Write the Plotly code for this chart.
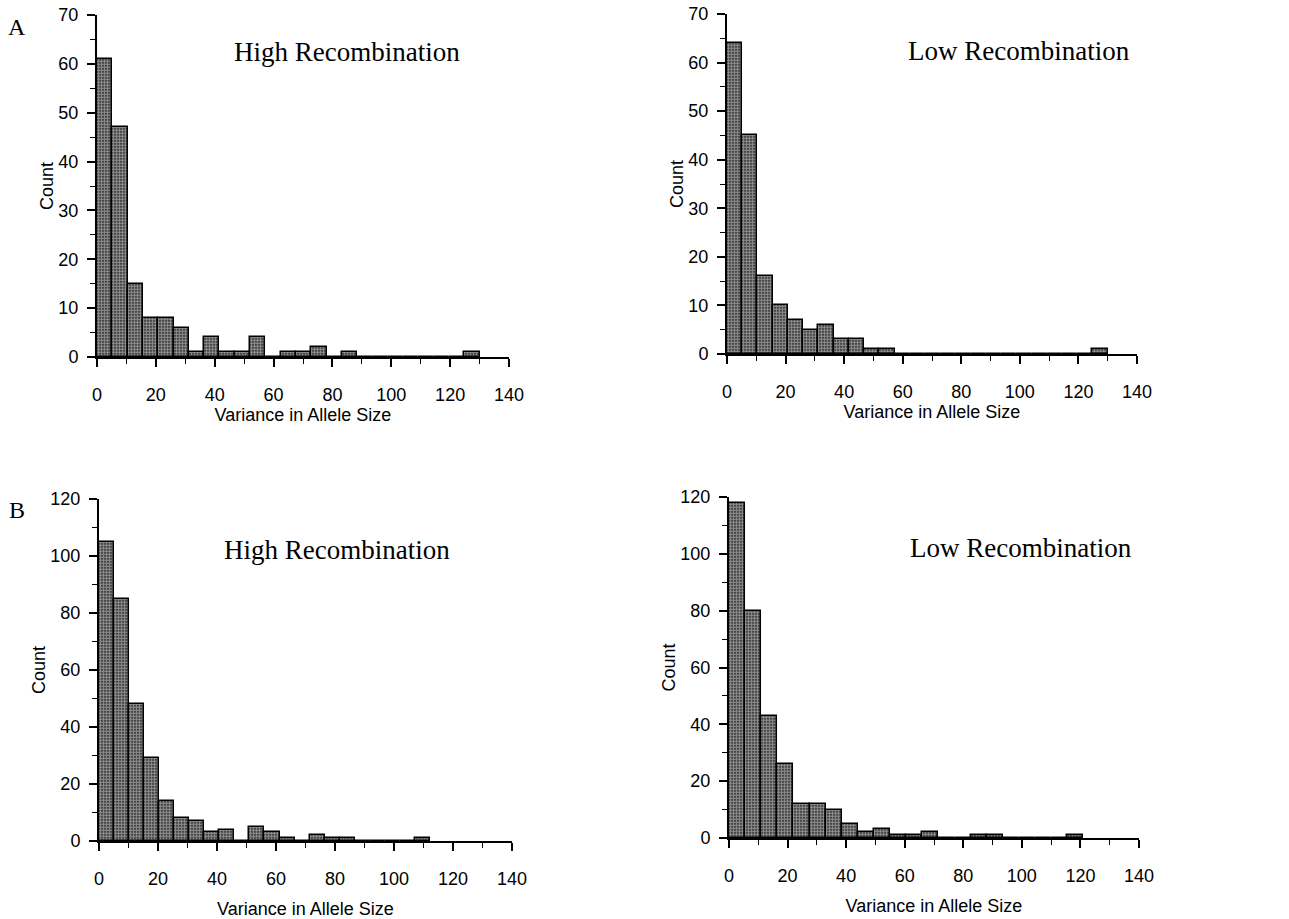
import plotly.graph_objects as go

# ---- data (histogram counts per bin, bins start at 0) ----
bin_width_a_high = 5.2
counts_a_high = [61, 47, 15, 8, 8, 6, 1, 4, 1, 1, 4, 0, 1, 1, 2, 0, 1, 0, 0, 0, 0, 0, 0, 0, 1]

bin_width_a_low = 5.2
counts_a_low = [64, 45, 16, 10, 7, 5, 6, 3, 3, 1, 1, 0, 0, 0, 0, 0, 0, 0, 0, 0, 0, 0, 0, 0, 1]

bin_width_b_high = 5.1
counts_b_high = [105, 85, 48, 29, 14, 8, 7, 3, 4, 0, 5, 3, 1, 0, 2, 1, 1, 0, 0, 0, 0, 1]

bin_width_b_low = 5.5
counts_b_low = [118, 80, 43, 26, 12, 12, 10, 5, 2, 3, 1, 1, 2, 0, 0, 1, 1, 0, 0, 0, 0, 1]

x_ticks = [0, 20, 40, 60, 80, 100, 120, 140]
y_ticks_a = [0, 10, 20, 30, 40, 50, 60, 70]
y_ticks_b = [0, 20, 40, 60, 80, 100, 120]

x_title = "Variance in Allele Size"
y_title = "Count"
panel_titles = ["High Recombination", "Low Recombination", "High Recombination", "Low Recombination"]
row_labels = ["A", "B"]

# ---- figure ----
W, H = 1289, 919
fig = go.Figure()

panels = [
    # counts, bin width, yticks, ymax, x-domain px, y-domain px (bottom, top), y minor dtick, title pos, x-title standoff
    (counts_a_high, bin_width_a_high, y_ticks_a, 70, (97, 509), (357, 15), 5, (347, 52), 2),
    (counts_a_low, bin_width_a_low, y_ticks_a, 70, (727, 1137), (354, 14), 5, (1019, 51), 2),
    (counts_b_high, bin_width_b_high, y_ticks_b, 120, (99, 512), (841, 499), 10, (337, 550), 15),
    (counts_b_low, bin_width_b_low, y_ticks_b, 120, (729, 1139), (838, 497), 10, (1021, 548), 15),
]

bar_style = dict(
    color="#222222",
    line=dict(color="black", width=1.5),
    pattern=dict(shape=".", fgcolor="white", bgcolor="#1a1a1a", size=3, solidity=0.7),
)
tick_font = dict(family="Liberation Sans, Arial, sans-serif", size=18, color="black")
title_font = dict(family="Liberation Sans, Arial, sans-serif", size=18, color="black")

for i, (counts, bw, yt, ymax, (x0, x1), (yb, yt_px), yminor, (tx, ty), xstand) in enumerate(panels):
    n = i + 1
    xa = "x" if n == 1 else f"x{n}"
    ya = "y" if n == 1 else f"y{n}"
    centers = [(k + 0.5) * bw for k in range(len(counts))]
    fig.add_trace(go.Bar(
        x=centers, y=counts, width=[bw] * len(counts),
        marker=bar_style, xaxis=xa, yaxis=ya, showlegend=False,
    ))
    xkey = "xaxis" if n == 1 else f"xaxis{n}"
    ykey = "yaxis" if n == 1 else f"yaxis{n}"
    fig.layout[xkey] = dict(
        domain=[x0 / W, x1 / W], anchor=ya, range=[0, 140], automargin=False,
        tickvals=x_ticks, ticks="outside", ticklen=8, tickwidth=1.8, tickcolor="black",
        showline=True, linecolor="black", linewidth=2, showgrid=False, zeroline=False,
        tickfont=tick_font, ticklabelstandoff=12,
        minor=dict(dtick=10, tick0=0, ticks="outside", ticklen=5, tickwidth=1.4, tickcolor="black", showgrid=False),
        title=dict(text=x_title, font=title_font, standoff=xstand),
    )
    fig.layout[ykey] = dict(
        domain=[1 - yb / H, 1 - yt_px / H], anchor=xa, range=[0, ymax], automargin=False,
        tickvals=yt, ticks="outside", ticklen=8, tickwidth=1.8, tickcolor="black",
        showline=True, linecolor="black", linewidth=2, showgrid=False, zeroline=False,
        tickfont=tick_font, ticklabelstandoff=5,
        minor=dict(dtick=yminor, tick0=0, ticks="outside", ticklen=5, tickwidth=1.4, tickcolor="black", showgrid=False),
        title=dict(text=y_title, font=title_font, standoff=0),
    )
    fig.add_annotation(
        text=panel_titles[i], x=tx / W, y=1 - ty / H, xref="paper", yref="paper",
        showarrow=False, xanchor="center", yanchor="middle",
        font=dict(family="Liberation Serif, Times New Roman, serif", size=27, color="black"),
    )

for lbl, (lx, ly) in zip(row_labels, [(17, 27), (17, 510)]):
    fig.add_annotation(
        text=lbl, x=lx / W, y=1 - ly / H, xref="paper", yref="paper",
        showarrow=False, xanchor="center", yanchor="middle",
        font=dict(family="Liberation Serif, Times New Roman, serif", size=24, color="black"),
    )

fig.update_layout(
    width=W, height=H, margin=dict(l=0, r=0, t=0, b=0, autoexpand=False),
    paper_bgcolor="white", plot_bgcolor="white", bargap=0,
)

fig.write_html("out.html")
